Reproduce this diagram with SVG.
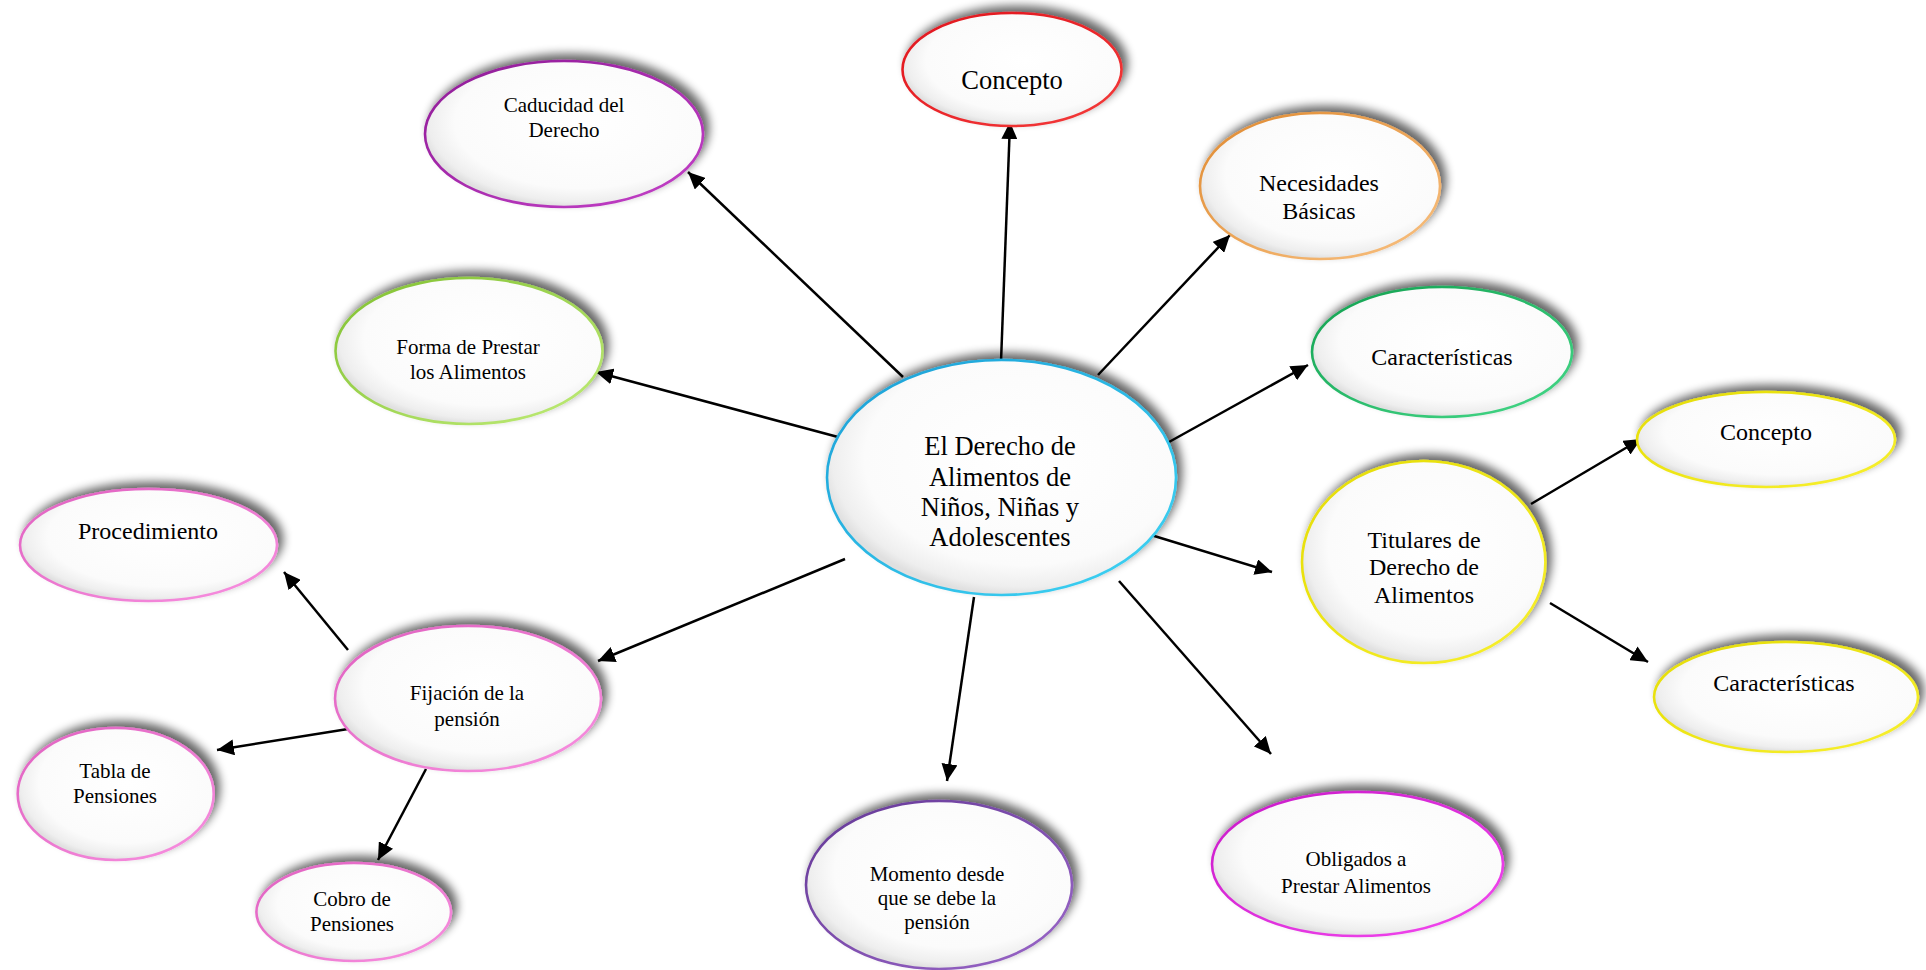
<svg xmlns="http://www.w3.org/2000/svg" width="1926" height="970" viewBox="0 0 1926 970">
<defs>
<style>
.t{font-family:"Liberation Serif","Times New Roman",serif;fill:#000;text-anchor:middle}
.s21{font-size:21px}.s24{font-size:24px}.s26{font-size:26.5px}
.n{fill:url(#fillG);stroke-width:2.6;filter:url(#sh)}
.c line{stroke:#000;stroke-width:2.5;marker-end:url(#ah)}
</style>
<radialGradient id="fillG" cx="0.56" cy="0.42" r="0.58">
<stop offset="0" stop-color="#ffffff"/>
<stop offset="0.78" stop-color="#fbfbfb"/>
<stop offset="0.94" stop-color="#eeeeee"/>
<stop offset="1" stop-color="#e0e0e0"/>
</radialGradient>
<linearGradient id="gBlue" x1="0" y1="0" x2="1" y2="1"><stop offset="0" stop-color="#1a9fd6"/><stop offset="1" stop-color="#3fd4f4"/></linearGradient>
<linearGradient id="gRed" x1="0" y1="0" x2="1" y2="1"><stop offset="0" stop-color="#e0141c"/><stop offset="1" stop-color="#f43a3a"/></linearGradient>
<linearGradient id="gPurp" x1="0" y1="0" x2="1" y2="1"><stop offset="0" stop-color="#8e1a96"/><stop offset="1" stop-color="#c440c8"/></linearGradient>
<linearGradient id="gOrange" x1="0" y1="0" x2="1" y2="1"><stop offset="0" stop-color="#e08a30"/><stop offset="1" stop-color="#f8c080"/></linearGradient>
<linearGradient id="gGreen" x1="0" y1="0" x2="1" y2="1"><stop offset="0" stop-color="#12a050"/><stop offset="1" stop-color="#44d888"/></linearGradient>
<linearGradient id="gYellow" x1="0" y1="0" x2="1" y2="1"><stop offset="0" stop-color="#e4dc00"/><stop offset="1" stop-color="#f8f030"/></linearGradient>
<linearGradient id="gLime" x1="0" y1="0" x2="1" y2="1"><stop offset="0" stop-color="#80c030"/><stop offset="1" stop-color="#c0ec78"/></linearGradient>
<linearGradient id="gPink" x1="0" y1="0" x2="1" y2="1"><stop offset="0" stop-color="#e060c0"/><stop offset="1" stop-color="#f890e0"/></linearGradient>
<linearGradient id="gViolet" x1="0" y1="0" x2="1" y2="1"><stop offset="0" stop-color="#643896"/><stop offset="1" stop-color="#9a66c8"/></linearGradient>
<linearGradient id="gMag" x1="0" y1="0" x2="1" y2="1"><stop offset="0" stop-color="#c818c8"/><stop offset="1" stop-color="#f448f0"/></linearGradient>
<filter id="sh" x="-20%" y="-30%" width="140%" height="160%">
<feGaussianBlur in="SourceAlpha" stdDeviation="5"/>
<feOffset dx="5" dy="-6" result="b"/>
<feComponentTransfer><feFuncA type="linear" slope="0.6"/></feComponentTransfer>
<feMerge><feMergeNode/><feMergeNode in="SourceGraphic"/></feMerge>
</filter>
<marker id="ah" markerUnits="userSpaceOnUse" markerWidth="18" markerHeight="16" refX="17" refY="8" orient="auto">
<path d="M0,0 L17,8 L0,16 z" fill="#000"/>
</marker>
</defs>
<rect width="1926" height="970" fill="#fff"/>

<g id="connectors" class="c">
<line x1="1001" y1="362" x2="1010" y2="122"/>
<line x1="903" y1="377" x2="688" y2="172"/>
<line x1="1098" y1="375" x2="1230" y2="235"/>
<line x1="1169" y1="442" x2="1308" y2="365"/>
<line x1="1151" y1="535" x2="1272" y2="572"/>
<line x1="1119" y1="581" x2="1271" y2="754"/>
<line x1="974" y1="597" x2="947" y2="781"/>
<line x1="845" y1="559" x2="598" y2="661"/>
<line x1="838" y1="437" x2="596" y2="372"/>
<line x1="1531" y1="504" x2="1641" y2="439"/>
<line x1="1550" y1="603" x2="1648" y2="662"/>
<line x1="348" y1="650" x2="284" y2="572"/>
<line x1="348" y1="729" x2="217" y2="750"/>
<line x1="426" y1="769" x2="378" y2="860"/>
</g>

<g id="central">
<ellipse class="n" cx="1001.5" cy="477.5" rx="174.5" ry="117.5" stroke="url(#gBlue)"/>
<text class="t s26"><tspan x="1000" y="455">El Derecho de</tspan><tspan x="1000" y="486">Alimentos de</tspan><tspan x="1000" y="516">Niños, Niñas y</tspan><tspan x="1000" y="546">Adolescentes</tspan></text>
</g>
<g id="concepto">
<ellipse class="n" cx="1012" cy="69.5" rx="109.5" ry="56.5" stroke="url(#gRed)"/>
<text class="t s26" x="1012" y="89">Concepto</text>
</g>
<g id="caducidad">
<ellipse class="n" cx="564" cy="134" rx="139" ry="73" stroke="url(#gPurp)"/>
<text class="t s21"><tspan x="564" y="112">Caducidad del</tspan><tspan x="564" y="137">Derecho</tspan></text>
</g>
<g id="necesidades">
<ellipse class="n" cx="1320" cy="186" rx="120" ry="73" stroke="url(#gOrange)"/>
<text class="t s24"><tspan x="1319" y="191">Necesidades</tspan><tspan x="1319" y="219">Básicas</tspan></text>
</g>
<g id="caracteristicas">
<ellipse class="n" cx="1442" cy="352" rx="130" ry="65" stroke="url(#gGreen)"/>
<text class="t s24" x="1442" y="365">Características</text>
</g>
<g id="titulares">
<ellipse class="n" cx="1423.7" cy="562" rx="121.7" ry="101" stroke="url(#gYellow)"/>
<text class="t s24"><tspan x="1424" y="548">Titulares de</tspan><tspan x="1424" y="575">Derecho de</tspan><tspan x="1424" y="603">Alimentos</tspan></text>
</g>
<g id="titulares-concepto">
<ellipse class="n" cx="1766" cy="439.5" rx="129" ry="47.5" stroke="url(#gYellow)"/>
<text class="t s24" x="1766" y="440">Concepto</text>
</g>
<g id="titulares-caracteristicas">
<ellipse class="n" cx="1786" cy="697" rx="132" ry="55" stroke="url(#gYellow)"/>
<text class="t s24" x="1784" y="691">Características</text>
</g>
<g id="forma">
<ellipse class="n" cx="469" cy="351" rx="133.5" ry="73" stroke="url(#gLime)"/>
<text class="t s21"><tspan x="468" y="354">Forma de Prestar</tspan><tspan x="468" y="379">los Alimentos</tspan></text>
</g>
<g id="procedimiento">
<ellipse class="n" cx="148.5" cy="545" rx="128.5" ry="56" stroke="url(#gPink)"/>
<text class="t s24" x="148" y="539">Procedimiento</text>
</g>
<g id="fijacion">
<ellipse class="n" cx="468" cy="698.5" rx="133" ry="72.5" stroke="url(#gPink)"/>
<text class="t s21"><tspan x="467" y="700">Fijación de la</tspan><tspan x="467" y="726">pensión</tspan></text>
</g>
<g id="tabla">
<ellipse class="n" cx="115.7" cy="794" rx="98" ry="66" stroke="url(#gPink)"/>
<text class="t s21"><tspan x="115" y="778">Tabla de</tspan><tspan x="115" y="803">Pensiones</tspan></text>
</g>
<g id="cobro">
<ellipse class="n" cx="353.7" cy="912" rx="97.3" ry="49" stroke="url(#gPink)"/>
<text class="t s21"><tspan x="352" y="906">Cobro de</tspan><tspan x="352" y="931">Pensiones</tspan></text>
</g>
<g id="momento">
<ellipse class="n" cx="939" cy="885" rx="133" ry="84" stroke="url(#gViolet)"/>
<text class="t s21"><tspan x="937" y="881">Momento desde</tspan><tspan x="937" y="905">que se debe la</tspan><tspan x="937" y="929">pensión</tspan></text>
</g>
<g id="obligados">
<ellipse class="n" cx="1357.5" cy="864" rx="145.5" ry="72" stroke="url(#gMag)"/>
<text class="t s21"><tspan x="1356" y="866">Obligados a</tspan><tspan x="1356" y="893">Prestar Alimentos</tspan></text>
</g>
</svg>
